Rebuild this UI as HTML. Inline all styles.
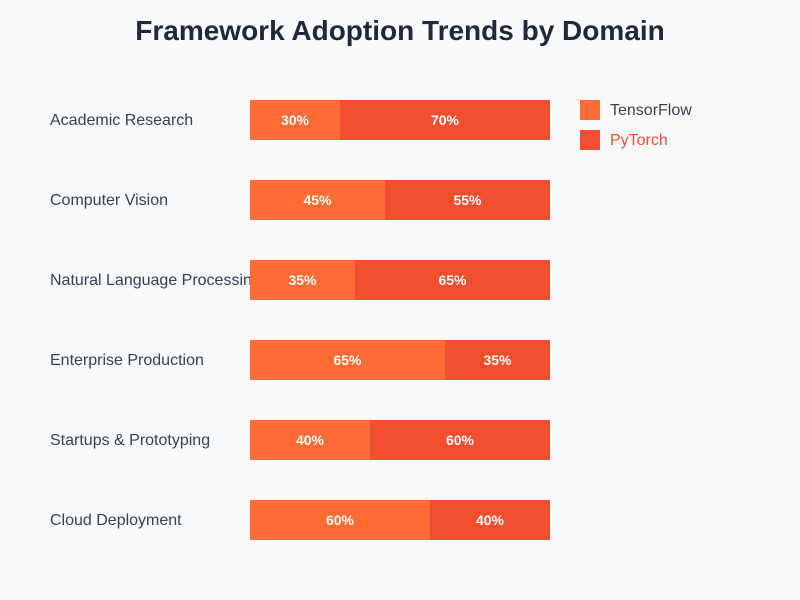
<!DOCTYPE html>
<html><head><meta charset="utf-8"><style>
body{margin:0;width:800px;height:600px;background:#f8fafc;font-family:"Liberation Sans",sans-serif;position:relative;overflow:hidden}
.t{position:absolute;left:0;width:800px;top:12px;text-align:center;font-size:28px;font-weight:bold;color:#1e293b;line-height:38px}
.l{position:absolute;left:50px;width:200px;overflow:hidden;white-space:nowrap;font-size:16px;color:#374151;line-height:40px;height:40px;margin-top:1px}
.b{position:absolute;height:40px;line-height:40px;text-align:center;color:#fff;font-weight:bold;font-size:14px}
.a{background:#ff6b35}.p{background:#f04e2f}
.sq{position:absolute;left:580px;width:20px;height:20px}
.lt{position:absolute;left:610px;font-size:16px;line-height:20px;margin-top:1px}
</style></head><body>
<div class="t">Framework Adoption Trends by Domain</div>
<div class="l" style="top:100px">Academic Research</div>
<div class="b a" style="top:100px;left:250px;width:90px">30%</div><div class="b p" style="top:100px;left:340px;width:210px">70%</div>
<div class="l" style="top:180px">Computer Vision</div>
<div class="b a" style="top:180px;left:250px;width:135px">45%</div><div class="b p" style="top:180px;left:385px;width:165px">55%</div>
<div class="l" style="top:260px">Natural Language Processing</div>
<div class="b a" style="top:260px;left:250px;width:105px">35%</div><div class="b p" style="top:260px;left:355px;width:195px">65%</div>
<div class="l" style="top:340px">Enterprise Production</div>
<div class="b a" style="top:340px;left:250px;width:195px">65%</div><div class="b p" style="top:340px;left:445px;width:105px">35%</div>
<div class="l" style="top:420px">Startups &amp; Prototyping</div>
<div class="b a" style="top:420px;left:250px;width:120px">40%</div><div class="b p" style="top:420px;left:370px;width:180px">60%</div>
<div class="l" style="top:500px">Cloud Deployment</div>
<div class="b a" style="top:500px;left:250px;width:180px">60%</div><div class="b p" style="top:500px;left:430px;width:120px">40%</div>
<div class="sq a" style="top:100px"></div><div class="lt" style="top:100px;color:#374151">TensorFlow</div>
<div class="sq p" style="top:130px"></div><div class="lt" style="top:130px;color:#f04e2f">PyTorch</div>
</body></html>
